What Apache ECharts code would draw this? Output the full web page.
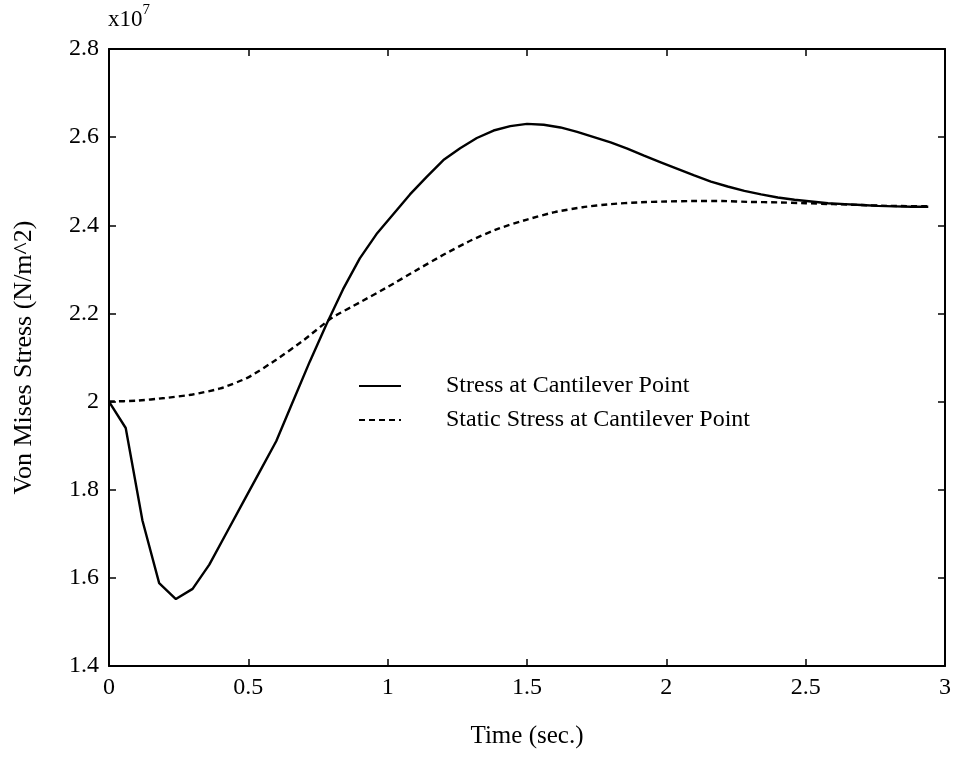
<!DOCTYPE html>
<html>
<head>
<meta charset="utf-8">
<script src="https://cdn.jsdelivr.net/npm/echarts@6/dist/echarts.min.js"></script>
<style>html,body{margin:0;padding:0;background:#fff}#c{width:956px;height:757px}</style>
</head>
<body>
<div id="c"></div>
<script>
// Time (sec.) and Von Mises stress in units of 1e7 N/m^2
const stressT = [0,0.06,0.12,0.18,0.24,0.30,0.36,0.42,0.48,0.54,0.60,0.66,0.72,0.78,0.84,0.90,0.96,1.02,1.08,1.14,1.20,1.26,1.32,1.38,1.44,1.50,1.56,1.62,1.68,1.74,1.80,1.86,1.92,1.98,2.04,2.10,2.16,2.22,2.28,2.34,2.40,2.46,2.52,2.58,2.64,2.70,2.76,2.82,2.88,2.94];
const stressV = [2.0,1.94,1.73,1.588,1.552,1.575,1.63,1.70,1.77,1.84,1.91,2.0,2.09,2.175,2.255,2.325,2.38,2.425,2.47,2.51,2.548,2.575,2.598,2.615,2.625,2.63,2.628,2.622,2.612,2.60,2.588,2.574,2.558,2.543,2.528,2.513,2.499,2.488,2.478,2.47,2.463,2.458,2.454,2.45,2.448,2.446,2.444,2.443,2.442,2.442];
const staticT = [0,0.1,0.2,0.3,0.4,0.5,0.6,0.7,0.8,0.9,1.0,1.1,1.2,1.3,1.4,1.5,1.6,1.7,1.8,1.9,2.0,2.1,2.2,2.3,2.4,2.5,2.6,2.7,2.8,2.94];
const staticV = [2.0,2.002,2.008,2.016,2.03,2.055,2.095,2.14,2.19,2.225,2.26,2.297,2.333,2.366,2.393,2.413,2.43,2.441,2.448,2.452,2.454,2.455,2.455,2.453,2.452,2.45,2.448,2.446,2.444,2.443];
const seriesNames = ['Stress at Cantilever Point','Static Stress at Cantilever Point'];
const xLabel = 'Time (sec.)';
const yLabel = 'Von Mises Stress (N/m^2)';

const FONT = '"Liberation Serif", "DejaVu Serif", serif';
const chart = echarts.init(document.getElementById('c'), null, {renderer:'canvas'});
const axisCommon = {
  axisLine:{show:true,onZero:false,lineStyle:{color:'#000',width:2}},
  axisTick:{show:true,inside:true,length:7,lineStyle:{color:'#000',width:1.5}},
  splitLine:{show:false}
};
chart.setOption({
  animation:false,
  backgroundColor:'#fff',
  grid:{left:109,right:11,top:49,bottom:91,containLabel:false},
  legend:{
    orient:'vertical', left:358, top:374, padding:0, itemWidth:42, itemHeight:14, itemGap:10,
    itemStyle:{opacity:0},
    textStyle:{fontFamily:FONT,fontSize:24,color:'#000',padding:[0,0,0,40]},
    data:seriesNames
  },
  xAxis:[
    Object.assign({type:'value',min:0,max:3,interval:0.5,position:'bottom',
      name:xLabel,nameLocation:'middle',nameGap:58,
      nameTextStyle:{fontFamily:FONT,fontSize:25,color:'#000'},
      axisLabel:{fontFamily:FONT,fontSize:24,color:'#000',margin:10}},axisCommon),
    Object.assign({type:'value',min:0,max:3,interval:0.5,position:'top',
      axisLabel:{show:false}},axisCommon)
  ],
  yAxis:[
    Object.assign({type:'value',min:1.4,max:2.8,interval:0.2,position:'left',
      name:yLabel,nameLocation:'middle',nameGap:72,
      nameTextStyle:{fontFamily:FONT,fontSize:26,color:'#000'},
      axisLabel:{fontFamily:FONT,fontSize:24,color:'#000',margin:10}},axisCommon),
    Object.assign({type:'value',min:1.4,max:2.8,interval:0.2,position:'right',
      axisLabel:{show:false}},axisCommon)
  ],
  graphic:[{
    type:'text', left:108, top:3,
    style:{text:'{a|x10}{b|7}',rich:{
      a:{fontFamily:FONT,fontSize:23,fill:'#000',verticalAlign:'bottom',lineHeight:28},
      b:{fontFamily:FONT,fontSize:15,fill:'#000',verticalAlign:'top',lineHeight:28}
    }}
  }],
  series:[
    {name:seriesNames[0],type:'line',symbol:'none',showSymbol:false,
     data:stressT.map((t,i)=>[t,stressV[i]]),
     lineStyle:{color:'#000',width:2.4,type:'solid'},itemStyle:{color:'#000'}},
    {name:seriesNames[1],type:'line',symbol:'none',showSymbol:false,smooth:0.2,
     data:staticT.map((t,i)=>[t,staticV[i]]),
     lineStyle:{color:'#000',width:2.4,type:[6,4]},itemStyle:{color:'#000'}}
  ]
});
</script>
</body>
</html>
